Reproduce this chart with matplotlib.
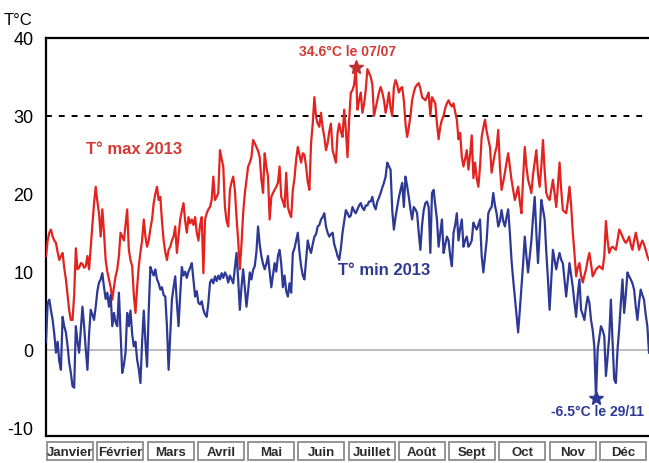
import numpy as np
import matplotlib
matplotlib.use("Agg")
import matplotlib.pyplot as plt
from matplotlib.patches import Rectangle

plt.rcParams['font.family'] = ['Liberation Sans', 'DejaVu Sans']
plt.rcParams['axes.unicode_minus'] = False

# températures journalières 2013
tmax = [12, 14, 15, 15.4, 14.5, 14, 13.7, 12.5, 11.5, 12, 12.4, 10.5, 9, 7, 5, 3.8, 3.8, 7, 13, 10.3,
        10.5, 11.1, 11, 10.5, 10.7, 12, 10.3, 13.2, 16, 18.8, 20.9, 19, 17.5, 14.5, 18, 15, 11.5, 10, 9, 8,
        6.4, 8, 9.4, 10.3, 12, 15, 14.5, 14, 16, 18, 12.8, 11.5, 10.7, 7, 4.7, 8, 10.7, 12.5, 14, 16.7,
        14.5, 13.2, 14, 15.5, 16.7, 18.8, 20, 20.9, 19.2, 19.6, 16.5, 14, 12.5, 11.5, 12.8, 13.2, 14, 14.5, 15.8, 12.4,
        14.5, 16.7, 17.8, 18.8, 16.5, 15, 17, 16.2, 16.7, 16, 17, 15, 14, 16, 17, 9.8, 16.7, 17.5, 18, 18.3,
        19.2, 22.2, 19.2, 19.6, 20.1, 25.6, 24.5, 23.5, 18.3, 16.5, 15.8, 20.5, 21.5, 22.2, 20.5, 17, 14, 10.3, 13.5, 17.5,
        20, 21.8, 23.5, 24, 24.7, 26.9, 26.5, 26, 25.5, 24.7, 21.8, 20.1, 25.2, 23.5, 22.2, 16.7, 19.6, 20.1, 20.5, 20.9,
        21.4, 23.5, 19.6, 19, 18.3, 22.7, 18.3, 17.5, 17, 20.5, 22, 24.4, 26, 25, 24, 25.2, 25, 23.5, 21.5, 20.5,
        26.5, 29, 32.4, 29.9, 29, 28.6, 30.4, 28.5, 27.3, 25.6, 26.5, 28, 29, 25.6, 24.8, 24, 27.8, 29, 28, 27.3,
        30.8, 28.2, 24.7, 29.5, 33, 33.3, 34, 36.3, 30.8, 32, 33, 30.4, 31.5, 33.3, 36, 35.5, 35, 34, 30, 31,
        32, 33, 33.7, 33, 32, 30.4, 31.5, 33, 31, 30, 33.7, 34.6, 34, 33, 33.5, 33.7, 32, 29, 27.3, 28.5,
        30, 32, 33, 33.7, 34, 34.2, 33.5, 32.4, 32.2, 32, 32.5, 33, 30, 32.4, 32, 31.6, 29, 27, 28.6, 29.5,
        30, 31, 31.6, 32, 31.5, 31.2, 31.6, 30.5, 29.5, 27, 27.8, 24.7, 23.5, 24.5, 25.6, 23.1, 25, 27.5, 22, 24,
        22, 20.9, 23.5, 27.3, 28.5, 29.5, 28, 27, 26, 22.7, 24, 25.2, 26, 28.2, 23.5, 20.5, 21.5, 22.7, 24, 25.2,
        23.5, 21.8, 20.5, 19.2, 20, 20.9, 19, 17.5, 22, 26, 23.5, 21.8, 21, 20.1, 22.5, 24, 25.6, 22.5, 20.9, 23.5,
        26.9, 23, 20.1, 19.5, 19.2, 20.5, 21.8, 20, 18.3, 21, 24, 20.5, 17.9, 17.7, 17.5, 19, 20.9, 18.5, 15, 12.4,
        9.4, 10.5, 11.1, 9.5, 8.6, 9.5, 10.3, 11.5, 12.4, 11, 9.4, 9.8, 10.3, 10.5, 10.7, 10.5, 10.3, 12, 16.5, 14,
        12.4, 13, 13.2, 13, 12.8, 14, 15.4, 15, 14.5, 14, 13.7, 14, 14.5, 13.5, 12.8, 14, 15, 14, 12.8, 13.5,
        14, 13.5, 12.8, 12, 11.5]

tmin = [1, 6, 6.4, 5, 3.8, 2, -0.4, 1, -1.5, -2.6, 4.2, 3, 2.2, 0.5, -1.7, -3, -4.7, -4.9, 3, 1,
        -0.4, 2.5, 5.5, 3, 0, -2.6, 2, 5.1, 4.5, 3.8, 5.5, 7.5, 8.6, 9, 9.8, 8, 6.5, 7.3, 5.5, 7,
        3, 4.7, 3.5, 3, 7.3, 2, -3, -2, -0.4, 4.7, 3, 5, 2, 0.4, 1, -1.3, -2.5, -4.3, 1, 5,
        1, -2.2, 5, 10.6, 10, 9.5, 10.3, 9, 8.5, 7.7, 8, 7, 6.8, 3, -2.6, 2, 6.4, 8, 9.4, 6,
        3, 7, 10.6, 9.5, 10, 9.2, 10, 10.5, 11.1, 9, 6.8, 7.5, 6, 5.8, 6.2, 5.1, 4.5, 4.2, 6, 8.6,
        9, 8.5, 9.4, 8.8, 9.5, 9, 9.8, 9.2, 9.9, 9.5, 8.6, 9.5, 9, 8.5, 10.5, 12.4, 9, 5.1, 8, 10.3,
        8, 5.5, 7.5, 9.9, 9, 10.2, 10.7, 12.5, 15.8, 13.5, 12, 11, 10.3, 11, 12, 10, 8, 9.5, 11.1, 10,
        12, 12.8, 11, 8, 9.5, 7.5, 6.8, 8.5, 7.3, 12.4, 13, 14, 15, 12.5, 10.7, 9.5, 9, 11.5, 14, 13,
        12.4, 13.5, 14.5, 14.8, 15.8, 16, 16.7, 17, 17.5, 15.8, 15, 14.5, 14.8, 15, 13.5, 12.8, 12, 11.5, 13, 15,
        16.5, 17.9, 17.5, 17, 17.2, 18.3, 17.8, 17.5, 18, 18.5, 18.8, 18.2, 17.9, 18.5, 18.5, 19, 19, 19.6, 18.5, 18,
        19, 19.5, 20.1, 20.8, 21.4, 22.2, 24, 23.5, 23.1, 17.9, 15.4, 17, 18.3, 19.5, 20.5, 21.4, 18.3, 22.2, 21, 19.6,
        18, 16.7, 18.3, 18, 17.5, 15, 12.8, 16, 17.9, 18.8, 19, 18.3, 12.4, 20.1, 20.5, 18.5, 16.7, 13.2, 15, 16.7,
        12.4, 13.5, 14.5, 14, 12, 10.7, 15, 16, 17.5, 14, 15.5, 16.7, 13.2, 14, 14.5, 13.2, 13.5, 14, 16.3, 15.8,
        15.4, 16, 16.7, 12, 9.9, 12, 14, 17.5, 18, 18.3, 20.1, 18.5, 17.5, 15.8, 16.5, 17.9, 16.5, 15.8, 17, 18,
        15, 11.5, 9, 6.8, 4.5, 2.2, 5, 8, 11, 14.5, 12, 9.9, 12, 14, 17, 19.6, 15, 11.1, 15, 19.2,
        18, 16.7, 12.5, 9, 5.1, 9, 12.8, 11.5, 10.3, 11.5, 12.4, 11.5, 11.1, 9, 6.8, 9, 11.1, 9.5, 8, 6,
        4.2, 7, 9, 5.1, 4.5, 3.8, 5.5, 6.8, 6, 3.8, 2.5, 0.4, -6.2, 0, 1.5, 3, 2.5, 1.7, -3.4, -1,
        1.7, 6.4, 1, -3.8, -4.3, 0, 2.6, 6, 9, 4.7, 7, 9.9, 9.4, 9, 8.5, 7.7, 5.5, 3.8, 6, 7.7,
        7, 6.4, 4.5, 3, -0.4]

mois = ["Janvier", "Février", "Mars", "Avril", "Mai", "Juin", "Juillet", "Août", "Sept", "Oct", "Nov", "Déc"]

jour_max = 188   # 07/07
jour_min = 333   # 29/11

rouge = '#e3231f'
bleu = '#2e3996'

fig = plt.figure(figsize=(6.49, 4.64), dpi=100)
ax = fig.add_axes([0.0709, 0.0582, 0.9291, 0.8578])

jours_max = np.arange(1, len(tmax) + 1)
jours_min = np.arange(1, len(tmin) + 1)

ax.axhline(0, color='#b0b0b0', lw=1.2, zorder=1)
ax.axhline(30, color='black', lw=1.4, ls=(0, (3.0, 3.6)), zorder=1)

ax.plot(jours_max, tmax, color=rouge, lw=1.6, zorder=3)
ax.plot(jours_min, tmin, color=bleu, lw=1.6, zorder=3)

ax.plot(jour_max, tmax[jour_max - 1], marker='*', color='#c0302e', ms=10, zorder=4)
ax.plot(jour_min, tmin[jour_min - 1], marker='*', color=bleu, ms=10, zorder=4)

ax.text(54, 25.8, "T° max 2013", color='#d23a34', fontsize=12, fontweight='bold',
        ha='center', va='center')
ax.text(205, 10.3, "T° min 2013", color=bleu, fontsize=12, fontweight='bold',
        ha='center', va='center')
ax.text(183, 38.3, "34.6°C le 07/07", color='#d23a34', fontsize=10, fontweight='bold',
        ha='center', va='center')
ax.text(334, -7.9, "-6.5°C le 29/11", color=bleu, fontsize=10, fontweight='bold',
        ha='center', va='center')

ax.set_xlim(1, 365)
ax.set_ylim(-11.1, 40)
ax.set_yticks([-10, 0, 10, 20, 30, 40])
ax.set_xticks([])
ax.tick_params(axis='y', length=0, labelsize=13, pad=9)
for s in ['left', 'top', 'bottom']:
    ax.spines[s].set_linewidth(1.6)
ax.spines['right'].set_visible(False)

fig.text(0.005, 0.955, "T°C", fontsize=12, ha='left', va='center')

# cases des mois sous l'axe
largeur = 1 / 12
for i, m in enumerate(mois):
    x0 = i * largeur + 0.002
    ax.add_patch(Rectangle((x0, -0.061), largeur - 0.007, 0.045, transform=ax.transAxes,
                           facecolor='white', edgecolor='#8c8c8c', lw=1.3, clip_on=False))
    ax.text(x0 + (largeur - 0.007) / 2, -0.039, m, transform=ax.transAxes, ha='center', va='center',
            fontsize=9.5, fontweight='bold', color='#2a2a2a')

fig.savefig("out.png", dpi=100)
